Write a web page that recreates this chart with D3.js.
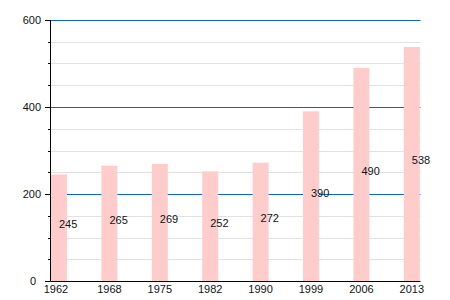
<!DOCTYPE html>
<html><head><meta charset="utf-8">
<script src="https://cdn.jsdelivr.net/npm/d3@7"></script>
<style>body{margin:0;background:#fff}svg{display:block}text{font-family:"Liberation Sans",Arial,sans-serif;font-size:11px;fill:#111}</style>
</head><body>
<script>
const years = ["1962","1968","1975","1982","1990","1999","2006","2013"];
const values = [245,265,269,252,272,390,490,538];
const yMajorTicks = [0,200,400,600];
const yMinorTicks = [50,100,150,250,300,350,450,500,550];

const W=450,H=300;
const svg=d3.select("body").append("svg").attr("width",W).attr("height",H);
const x0=50.5, x1=420.5, yTop=20, yBot=281;
const y=d3.scaleLinear().domain([0,600]).range([yBot,yTop]);
const x=d3.scaleLinear().domain([0,7]).range([51,403.8]);
const bw=16;

// minor grid
svg.selectAll(".minor").data(yMinorTicks).join("line")
 .attr("x1",x0).attr("x2",x1).attr("y1",d=>Math.round(y(d))+0.5).attr("y2",d=>Math.round(y(d))+0.5)
 .attr("stroke","#e2e2e2").attr("stroke-width",1);
// major grid
svg.selectAll(".major").data(yMajorTicks.filter(d=>d>0)).join("line")
 .attr("x1",x0).attr("x2",x1).attr("y1",d=>Math.round(y(d))+0.5).attr("y2",d=>Math.round(y(d))+0.5)
 .attr("stroke","#0a64c8").attr("stroke-width",1);

// bars
svg.selectAll(".bar").data(values).join("rect")
 .attr("x",(d,i)=>x(i)).attr("width",bw)
 .attr("y",d=>y(d)).attr("height",d=>yBot-y(d)).attr("fill","#ffcccc");

// value labels
svg.selectAll(".val").data(values).join("text")
 .attr("x",(d,i)=>x(i)+bw/2).attr("y",d=>y(d/2)+0.5)
 .attr("text-anchor","start").text(d=>d);

// y axis
svg.append("line").attr("x1",x0).attr("x2",x0).attr("y1",yTop).attr("y2",yBot).attr("stroke","#000");
svg.selectAll(".ytm").data(yMajorTicks).join("line")
 .attr("x1",45).attr("x2",x0).attr("y1",d=>Math.round(y(d))+0.5).attr("y2",d=>Math.round(y(d))+0.5).attr("stroke","#000");
svg.selectAll(".ytn").data(yMinorTicks).join("line")
 .attr("x1",48).attr("x2",x0).attr("y1",d=>Math.round(y(d))+0.5).attr("y2",d=>Math.round(y(d))+0.5).attr("stroke","#000");
svg.selectAll(".ylab").data(yMajorTicks).join("text")
 .attr("x",d=>d===0?36:41).attr("y",d=>y(d)+4).attr("text-anchor","end").text(d=>d);

// x axis
svg.append("line").attr("x1",x0).attr("x2",x1).attr("y1",yBot+0.5).attr("y2",yBot+0.5).attr("stroke","#000");
svg.selectAll(".xlab").data(years).join("text")
 .attr("x",(d,i)=>i===0?56:x(i)+bw/2).attr("y",293).attr("text-anchor","middle").text(d=>d);
</script>
</body></html>
